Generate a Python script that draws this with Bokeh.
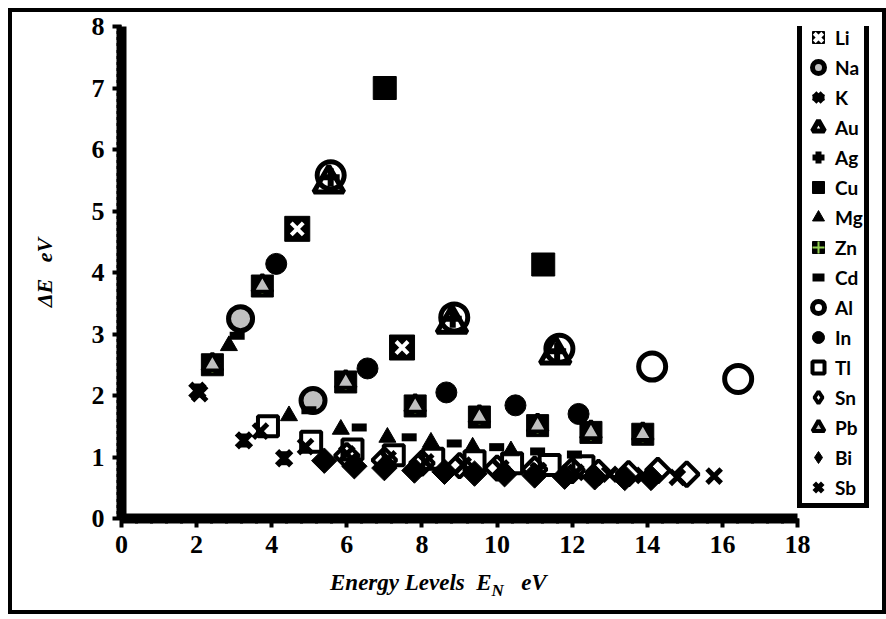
import math
from bokeh.plotting import figure
from bokeh.models import (Range1d, SingleIntervalTicker, Legend, LegendItem, Div,
                          ColumnDataSource)
from bokeh.layouts import column
from bokeh.embed import file_html
from bokeh.resources import INLINE

# ---------------- data ----------------
li_x = [4.68, 7.47]
li_y = [4.71, 2.78]
na_x = [3.17, 5.10]
na_y = [3.25, 1.92]
k_x = [2.02, 3.26, 4.33]
k_y = [2.08, 1.27, 0.98]
au_x = [5.52, 8.80, 11.55]
au_y = [5.45, 3.17, 2.67]
ag_x = [5.57, 8.82, 11.60]
ag_y = [5.55, 3.25, 2.72]
cu_x = [7.01, 11.23]
cu_y = [7.00, 4.13]
mg_x = [2.86, 4.46, 5.84, 7.08, 8.24, 9.35, 10.37]
mg_y = [2.81, 1.67, 1.45, 1.32, 1.24, 1.16, 1.10]
zn_x = [2.42, 3.75, 5.97, 7.82, 9.53, 11.08, 12.50, 13.88]
zn_y = [2.50, 3.78, 2.22, 1.83, 1.65, 1.51, 1.40, 1.37]
cd_x = [3.08, 4.99, 6.33, 7.66, 8.86, 9.99, 11.08, 12.06]
cd_y = [2.97, 1.76, 1.48, 1.32, 1.22, 1.16, 1.09, 1.04]
al_x = [5.57, 8.86, 11.66, 14.13, 16.42]
al_y = [5.58, 3.27, 2.76, 2.47, 2.27]
in_x = [4.12, 6.55, 8.65, 10.49, 12.17]
in_y = [4.14, 2.44, 2.05, 1.84, 1.70]
tl_x = [3.90, 5.05, 6.15, 7.25, 8.30, 9.40, 10.40, 11.40, 12.30]
tl_y = [1.50, 1.25, 1.12, 1.03, 0.97, 0.93, 0.90, 0.87, 0.85]
sn_x = [6.00, 7.00, 8.00, 9.00, 10.00, 11.00, 12.00, 12.70, 13.50, 14.28, 15.05]
sn_y = [1.02, 0.95, 0.90, 0.86, 0.82, 0.80, 0.78, 0.75, 0.73, 0.78, 0.72]
pb_x = [2.42, 3.75, 5.97, 7.82, 9.53, 11.08, 12.50, 13.88]
pb_y = [2.50, 3.78, 2.22, 1.83, 1.65, 1.51, 1.40, 1.37]
bi_x = [5.40, 6.20, 7.00, 7.80, 8.60, 9.40, 10.20, 11.00, 11.80, 12.60, 13.40, 14.10]
bi_y = [0.94, 0.85, 0.82, 0.78, 0.76, 0.73, 0.72, 0.70, 0.68, 0.67, 0.66, 0.66]
sb_x = [2.08, 3.70, 4.90, 6.00, 7.10, 8.10, 9.10, 10.10, 11.10, 12.10, 13.00, 13.90, 14.80, 15.78]
sb_y = [2.03, 1.42, 1.17, 1.05, 0.97, 0.92, 0.87, 0.82, 0.78, 0.75, 0.72, 0.70, 0.67, 0.69]

x_axis_min, x_axis_max, x_tick_step = 0, 18, 2
y_axis_min, y_axis_max, y_tick_step = 0, 8, 1

GRAY = "#c0c0c0"
GREEN = "#92d050"

# frame: x 0..18 spans 676 px; the frame continues to the right to hold the legend
px_per_x = 676 / 18.0
frame_w = 870 - 109
x_end = frame_w / px_per_x

p = figure(width=870, height=553, output_backend="svg", toolbar_location=None,
           x_range=Range1d(0, x_end), y_range=Range1d(y_axis_min, y_axis_max),
           min_border_left=109, min_border_right=0, min_border_top=14,
           min_border_bottom=47)
p.grid.visible = False
p.outline_line_color = None
p.background_fill_color = "white"
p.border_fill_color = "white"
# an off-screen range used only to give the legend diamond keys (legend keys are never rotated)
p.extra_x_ranges = {"legend_keys": Range1d(1000, 1001)}

p.xaxis.bounds = (x_axis_min, x_axis_max)
p.xaxis.ticker = SingleIntervalTicker(interval=x_tick_step, num_minor_ticks=5)
p.yaxis.ticker = SingleIntervalTicker(interval=y_tick_step, num_minor_ticks=10)
for ax in (p.xaxis, p.yaxis):
    ax.axis_line_width = 10
    ax.axis_line_color = "black"
    ax.axis_line_alpha = 1
    ax.major_tick_line_width = 4
    ax.major_tick_line_color = "black"
    ax.minor_tick_line_width = 3
    ax.minor_tick_line_color = "black"
    ax.major_tick_out = 9
    ax.major_tick_in = 0
    ax.minor_tick_out = 5
    ax.minor_tick_in = 0
    ax.major_label_text_font = "Liberation Serif"
    ax.major_label_text_font_style = "bold"
    ax.major_label_text_font_size = "26px"
    ax.major_label_text_color = "black"
p.xaxis.major_label_standoff = 8
p.yaxis.major_label_standoff = 8
p.yaxis.axis_label = "\u0394E\u00a0\u00a0\u00a0eV"
p.yaxis.axis_label_text_font = "Liberation Serif"
p.yaxis.axis_label_text_font_style = "bold italic"
p.yaxis.axis_label_text_font_size = "22px"
p.yaxis.axis_label_text_color = "black"
p.yaxis.axis_label_standoff = 32


def S(x, y):
    return ColumnDataSource(dict(x=x, y=y))


r_li1 = p.scatter("x", "y", source=S(li_x, li_y), marker="square", size=25,
                  fill_color="black", line_color="black", line_width=1)
r_li2 = p.scatter("x", "y", source=S(li_x, li_y), marker="x", size=17,
                  line_color="white", line_width=4)
r_na = p.scatter("x", "y", source=S(na_x, na_y), marker="circle", size=24,
                 fill_color=GRAY, line_color="black", line_width=5)
r_k1 = p.scatter("x", "y", source=S(k_x, k_y), marker="x", size=20,
                 line_color="black", line_width=6)
r_k2 = p.scatter("x", "y", source=S(k_x, k_y), marker="dash", size=14, angle=math.pi / 2,
                 line_color="black", line_width=6)
r_au = p.scatter("x", "y", source=S(au_x, au_y), marker="triangle", size=30,
                 fill_alpha=0, line_color="black", line_width=5)
r_ag = p.scatter("x", "y", source=S(ag_x, ag_y), marker="cross", size=18,
                 line_color="black", line_width=6)
r_cu = p.scatter("x", "y", source=S(cu_x, cu_y), marker="square", size=23,
                 fill_color="black", line_color="black")
r_mg = p.scatter("x", "y", source=S(mg_x, mg_y), marker="triangle", size=17,
                 fill_color="black", line_color="black")
r_zn1 = p.scatter("x", "y", source=S(zn_x, zn_y), marker="square", size=22,
                  fill_color="black", line_color="black")
r_zn2 = p.scatter("x", "y", source=S(zn_x, zn_y), marker="cross", size=16,
                  line_color=GREEN, line_width=2)
r_cd = p.scatter("x", "y", source=S(cd_x, cd_y), marker="dash", size=15,
                 line_color="black", line_width=8)
r_al = p.scatter("x", "y", source=S(al_x, al_y), marker="circle", size=27,
                 fill_alpha=0, line_color="black", line_width=5)
r_in = p.scatter("x", "y", source=S(in_x, in_y), marker="circle", size=21,
                 fill_color="black", line_color="black")
r_tl = p.scatter("x", "y", source=S(tl_x, tl_y), marker="square", size=20,
                 fill_alpha=0, line_color="black", line_width=4)
r_sn = p.scatter("x", "y", source=S(sn_x, sn_y), marker="square", size=17, angle=math.pi / 4,
                 fill_alpha=0, line_color="black", line_width=4)
r_pb = p.scatter("x", "y", source=S(pb_x, pb_y), marker="triangle", size=20,
                 fill_color=GRAY, line_color="black", line_width=4)
r_bi = p.scatter("x", "y", source=S(bi_x, bi_y), marker="square", size=18, angle=math.pi / 4,
                 fill_color="black", line_color="black")
r_sb = p.scatter("x", "y", source=S(sb_x, sb_y), marker="x", size=20,
                 line_color="black", line_width=5)

# diamond legend keys for Sn and Bi (same data, mapped to an off-screen range)
k_sn = p.scatter("x", "y", source=S(sn_x, sn_y), marker="diamond", size=24,
                 x_range_name="legend_keys", fill_alpha=0, line_color="black", line_width=4)
k_bi = p.scatter("x", "y", source=S(bi_x, bi_y), marker="diamond", size=24,
                 x_range_name="legend_keys", fill_color="black", line_color="black")

items = [
    LegendItem(label="Li", renderers=[r_li1, r_li2]),
    LegendItem(label="Na", renderers=[r_na]),
    LegendItem(label="K", renderers=[r_k1, r_k2]),
    LegendItem(label="Au", renderers=[r_au]),
    LegendItem(label="Ag", renderers=[r_ag]),
    LegendItem(label="Cu", renderers=[r_cu]),
    LegendItem(label="Mg", renderers=[r_mg]),
    LegendItem(label="Zn", renderers=[r_zn1, r_zn2]),
    LegendItem(label="Cd", renderers=[r_cd]),
    LegendItem(label="Al", renderers=[r_al]),
    LegendItem(label="In", renderers=[r_in]),
    LegendItem(label="Tl", renderers=[r_tl]),
    LegendItem(label="Sn", renderers=[k_sn]),
    LegendItem(label="Pb", renderers=[r_pb]),
    LegendItem(label="Bi", renderers=[k_bi]),
    LegendItem(label="Sb", renderers=[r_sb]),
]
legend = Legend(items=items, location=(676, 10), orientation="vertical")
legend.border_line_color = "black"
legend.border_line_width = 5
legend.border_line_alpha = 1
legend.background_fill_color = "white"
legend.background_fill_alpha = 1
legend.padding = 1
legend.margin = 0
legend.glyph_width = 30
legend.glyph_height = 30
legend.spacing = 0
legend.label_standoff = 2
legend.label_height = 20
legend.label_text_font = "Lato"
legend.label_text_font_style = "bold"
legend.label_text_font_size = "19px"
legend.label_text_color = "black"
p.add_layout(legend, "center")

xlabel_html = (
    '<div style="font-family:\'Liberation Serif\';font-size:23px;font-weight:bold;'
    'font-style:italic;line-height:26px;padding-top:5px;padding-left:318px;'
    'white-space:nowrap;color:black;">'
    'Energy Levels&nbsp;&nbsp;E<sub style="font-size:17px;">N</sub>&nbsp;&nbsp;&nbsp;eV</div>'
)
xdiv = Div(text=xlabel_html, width=870, height=45, margin=0)

layout = column(p, xdiv, spacing=0, margin=(8, 0, 0, 8),
                styles={"border": "4px solid black", "background-color": "white"})

open("out.html", "w").write(file_html(layout, INLINE))
